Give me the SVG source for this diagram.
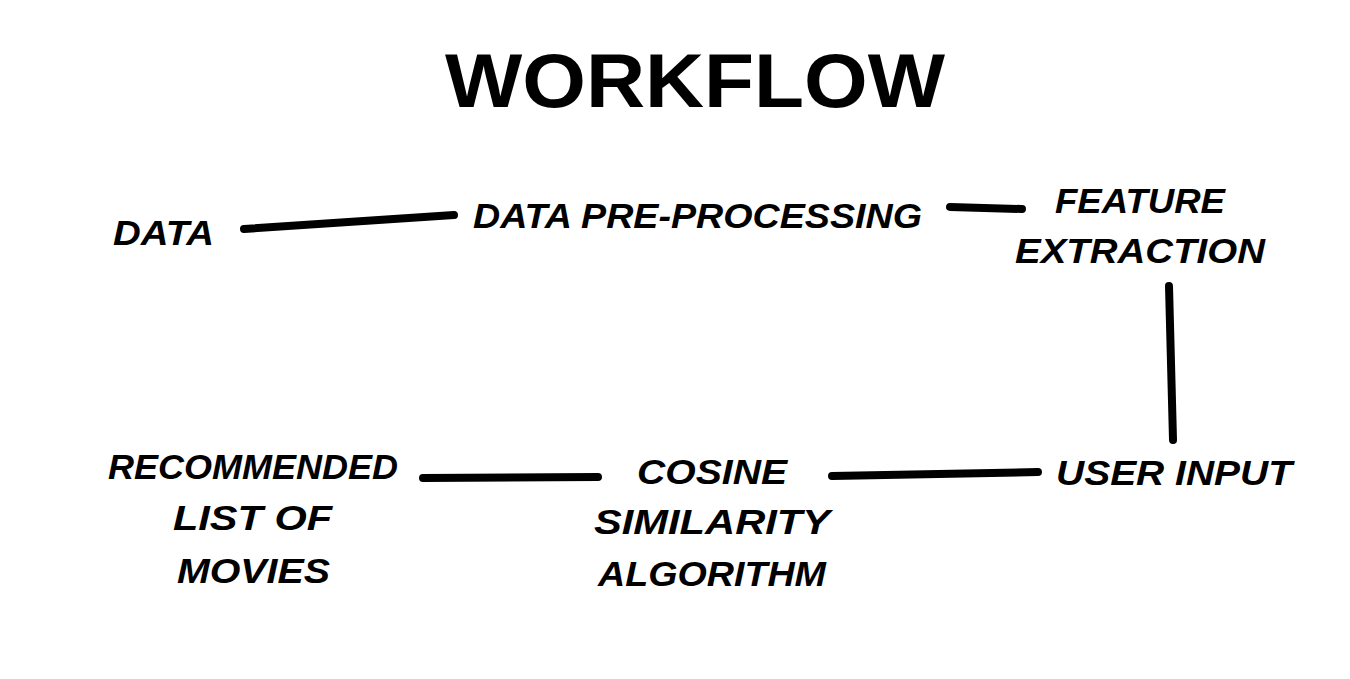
<svg xmlns="http://www.w3.org/2000/svg" width="1350" height="679" viewBox="0 0 1350 679">
<style>
.t{font-family:"Liberation Sans","DejaVu Sans",sans-serif;font-weight:bold;font-style:italic;font-size:35px;fill:#000;text-anchor:middle}
.title{font-family:"Liberation Sans","DejaVu Sans",sans-serif;font-weight:bold;font-size:76px;fill:#000;text-anchor:middle}
.c{stroke:#000;stroke-width:8;stroke-linecap:round;fill:none}
</style>
<rect width="1350" height="679" fill="#fff"/>
<text class="title" x="695" y="107" textLength="500" lengthAdjust="spacingAndGlyphs">WORKFLOW</text>
<g id="connectors">
<line class="c" x1="244" y1="229" x2="454" y2="215"/>
<line class="c" x1="950" y1="207" x2="1022" y2="209"/>
<line class="c" x1="1169" y1="286" x2="1173" y2="440"/>
<line class="c" x1="832" y1="476" x2="1038" y2="472"/>
<line class="c" x1="423" y1="478" x2="598" y2="477"/>
</g>
<g id="data"><text class="t" x="163.5" y="245" textLength="101" lengthAdjust="spacingAndGlyphs">DATA</text></g>
<g id="preprocessing"><text class="t" x="697.5" y="228" textLength="449" lengthAdjust="spacingAndGlyphs">DATA PRE-PROCESSING</text></g>
<g id="feature"><text class="t" x="1140" y="213" textLength="170" lengthAdjust="spacingAndGlyphs">FEATURE</text><text class="t" x="1140" y="263" textLength="250" lengthAdjust="spacingAndGlyphs">EXTRACTION</text></g>
<g id="userinput"><text class="t" x="1174" y="485" textLength="236" lengthAdjust="spacingAndGlyphs">USER INPUT</text></g>
<g id="cosine"><text class="t" x="712" y="484" textLength="150" lengthAdjust="spacingAndGlyphs">COSINE</text><text class="t" x="712" y="534" textLength="236" lengthAdjust="spacingAndGlyphs">SIMILARITY</text><text class="t" x="712" y="586" textLength="228" lengthAdjust="spacingAndGlyphs">ALGORITHM</text></g>
<g id="recommended"><text class="t" x="253" y="479" textLength="290" lengthAdjust="spacingAndGlyphs">RECOMMENDED</text><text class="t" x="252.5" y="530" textLength="159" lengthAdjust="spacingAndGlyphs">LIST OF</text><text class="t" x="253.5" y="583" textLength="153" lengthAdjust="spacingAndGlyphs">MOVIES</text></g>
</svg>
